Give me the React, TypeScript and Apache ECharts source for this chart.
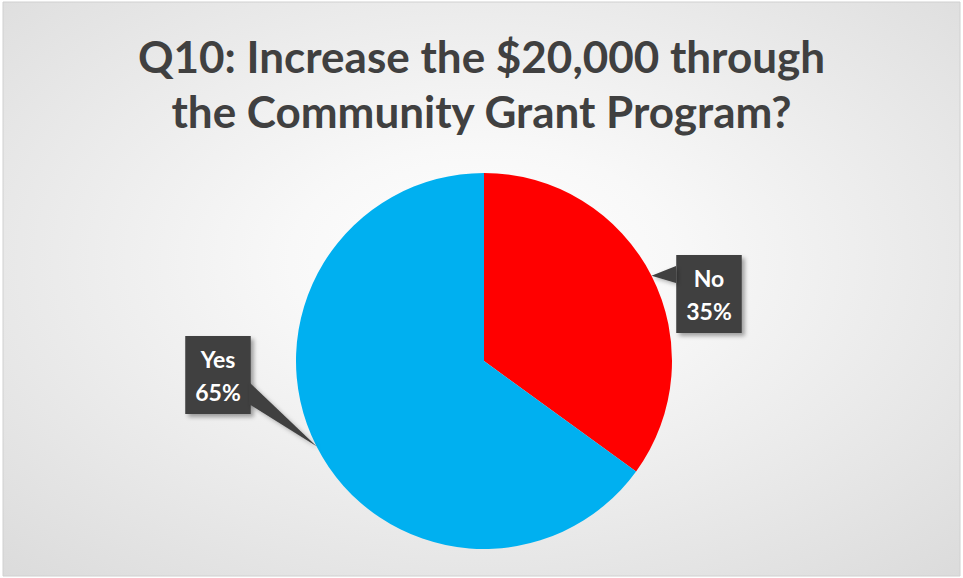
import React, { useEffect, useRef } from "react";
import * as echarts from "echarts";

const titleLines = ["Q10: Increase the $20,000 through", "the Community Grant Program?"];
const categories = ["No", "Yes"];
const values = [35, 65];
const colors = ["#FF0000", "#00B0F0"];
const labelPositions = [
  [709, 294],
  [218, 375],
];
// base points of the callout pointers where they join the label boxes
const pointerBases = [
  [[676, 266], [676, 283]],
  [[249, 382], [249, 404]],
];

const CENTER = [484, 361];
const RADIUS = 188;

export default function App() {
  const ref = useRef<HTMLDivElement>(null);
  useEffect(() => {
    if (!ref.current) return;
    const chart = echarts.init(ref.current, null, { renderer: "svg" });
    const total = values.reduce((a, b) => a + b, 0);
    let cum = 0;
    const pointers = values.map((v, i) => {
      const midFrac = (cum + v / 2) / total;
      cum += v;
      const ang = ((90 - midFrac * 360) * Math.PI) / 180;
      const tip = [CENTER[0] + RADIUS * Math.cos(ang), CENTER[1] - RADIUS * Math.sin(ang)];
      return {
        type: "polygon",
        shape: { points: [tip, pointerBases[i][0], pointerBases[i][1]] },
        style: {
          fill: "#404040",
          shadowColor: "rgba(0,0,0,0.3)",
          shadowBlur: 4,
          shadowOffsetX: 2,
          shadowOffsetY: 2,
        },
        z: 5,
        silent: true,
      };
    });
    chart.setOption({
      animation: false,
      backgroundColor: "#ffffff",
      graphic: [
        {
          type: "rect",
          shape: { x: 3, y: 2, width: 957, height: 574 },
          style: {
            fill: {
              type: "radial",
              x: 0.5,
              y: 0.45,
              r: 1.0,
              colorStops: [
                { offset: 0, color: "#ffffff" },
                { offset: 0.2, color: "#f8f8f8" },
                { offset: 0.54, color: "#e6e6e6" },
                { offset: 0.84, color: "#d6d6d6" },
                { offset: 1, color: "#c6c6c6" },
              ],
            },
            stroke: "#d0d0d0",
            lineWidth: 1,
          },
          z: -10,
          silent: true,
        },
        ...pointers,
      ],
      title: {
        text: titleLines.join("\n"),
        left: "center",
        top: 23,
        textStyle: {
          fontFamily: "Lato",
          fontWeight: "bold",
          fontSize: 44,
          lineHeight: 55,
          color: "#404040",
        },
      },
      series: [
        {
          type: "pie",
          center: CENTER,
          radius: [0, RADIUS],
          startAngle: 90,
          clockwise: true,
          z: 2,
          data: categories.map((c, i) => ({
            name: c,
            value: values[i],
            itemStyle: { color: colors[i] },
          })),
          label: {
            show: true,
            formatter: "{b}\n{d}%",
            color: "#ffffff",
            fontFamily: "Lato",
            fontWeight: "bold",
            fontSize: 23,
            lineHeight: 33,
            align: "center",
            backgroundColor: "#404040",
            padding: [6, 10, 6, 10],
            shadowColor: "rgba(0,0,0,0.35)",
            shadowBlur: 4,
            shadowOffsetX: 3,
            shadowOffsetY: 3,
          },
          labelLine: { show: false },
          labelLayout: (params: any) => {
            const p = labelPositions[params.dataIndex];
            return { x: p[0], y: p[1], align: "center", verticalAlign: "middle" };
          },
        },
      ],
    });
    return () => chart.dispose();
  }, []);
  return (
    <div
      ref={ref}
      style={{ position: "absolute", left: 0, top: 0, width: 963, height: 578 }}
    />
  );
}
